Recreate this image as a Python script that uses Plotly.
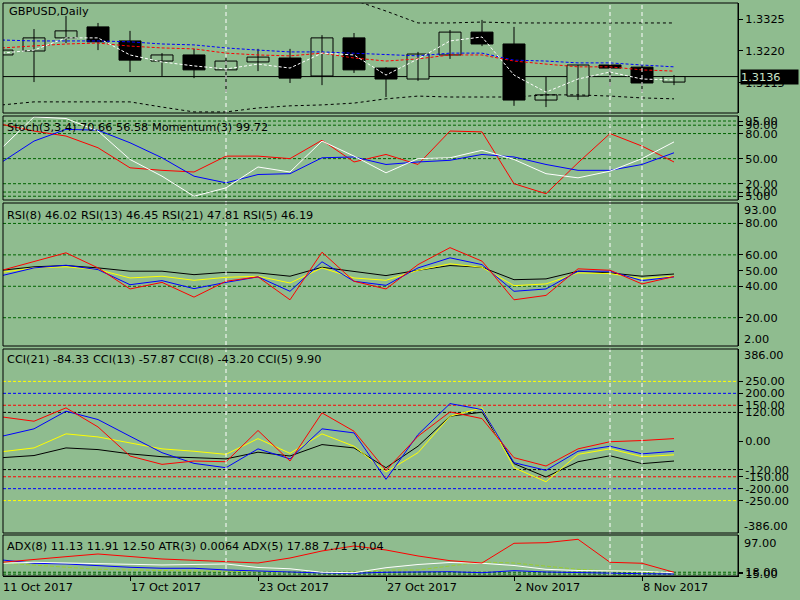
import plotly.graph_objects as go

# ---------------- data ----------------
bar_dates = ["11 Oct", "12 Oct", "13 Oct", "16 Oct", "17 Oct", "18 Oct", "19 Oct", "20 Oct",
             "23 Oct", "24 Oct", "25 Oct", "26 Oct", "27 Oct", "30 Oct", "31 Oct", "1 Nov",
             "2 Nov", "3 Nov", "6 Nov", "7 Nov", "8 Nov", "9 Nov"]
date_tick_idx = [0, 4, 8, 12, 16, 20]
date_tick_labels = ["11 Oct 2017", "17 Oct 2017", "23 Oct 2017", "27 Oct 2017", "2 Nov 2017", "8 Nov 2017"]
vline_idx = [7, 19, 20]

open_ = [1.3207, 1.3220, 1.3263, 1.3299, 1.3253, 1.3187, 1.3207, 1.3158, 1.3184, 1.3197, 1.3138,
         1.3263, 1.3164, 1.3128, 1.3207, 1.3282, 1.3243, 1.3059, 1.3072, 1.3174, 1.3167, 1.3118]
high = [1.3227, 1.3292, 1.3335, 1.3312, 1.3286, 1.3213, 1.3227, 1.3200, 1.3227, 1.3227, 1.3272,
        1.3279, 1.3167, 1.3217, 1.3289, 1.3322, 1.3299, 1.3135, 1.3174, 1.3177, 1.3177, 1.3141]
low = [1.3204, 1.3118, 1.3246, 1.3223, 1.3151, 1.3138, 1.3131, 1.3085, 1.3154, 1.3115, 1.3108,
       1.3148, 1.3069, 1.3122, 1.3194, 1.3236, 1.3040, 1.3036, 1.3059, 1.3105, 1.3085, 1.3108]
close = [1.3223, 1.3263, 1.3286, 1.3250, 1.3190, 1.3207, 1.3158, 1.3187, 1.3200, 1.3131, 1.3263,
         1.3158, 1.3128, 1.3210, 1.3282, 1.3243, 1.3059, 1.3076, 1.3174, 1.3164, 1.3115, 1.3136]
last_price = 1.3136

ma_blue = [1.3256, 1.3253, 1.3253, 1.3253, 1.3250, 1.3243, 1.3240, 1.3230, 1.3223, 1.3217, 1.3217,
           1.3213, 1.3207, 1.3204, 1.3213, 1.3213, 1.3190, 1.3187, 1.3181, 1.3181, 1.3174, 1.3168]
ma_red = [1.3230, 1.3236, 1.3243, 1.3246, 1.3236, 1.3230, 1.3227, 1.3213, 1.3207, 1.3204, 1.3213,
          1.3197, 1.3187, 1.3194, 1.3207, 1.3207, 1.3187, 1.3177, 1.3168, 1.3168, 1.3158, 1.3154]
ma_white = [1.3213, 1.3223, 1.3263, 1.3263, 1.3207, 1.3184, 1.3171, 1.3161, 1.3177, 1.3164, 1.3213,
            1.3207, 1.3141, 1.3194, 1.3253, 1.3266, 1.3141, 1.3085, 1.3128, 1.3151, 1.3128, 1.3125]
band_upper = [1.3404, 1.3414, 1.3427, 1.3437, 1.3437, 1.3434, 1.3427, 1.3420, 1.3414, 1.3407, 1.3397,
              1.3387, 1.3351, 1.3312, 1.3312, 1.3315, 1.3312, 1.3312, 1.3312, 1.3312, 1.3312, 1.3312]
band_lower = [1.3043, 1.3053, 1.3053, 1.3053, 1.3053, 1.3036, 1.3020, 1.3020, 1.3033, 1.3040, 1.3043,
              1.3049, 1.3063, 1.3072, 1.3069, 1.3069, 1.3069, 1.3076, 1.3076, 1.3072, 1.3066, 1.3063]

stoch_main = [63, 100, 98, 83, 49, 29, 5, 15, 40, 34, 71, 53, 33, 50, 51, 60, 49, 32, 27, 35, 50, 70]
stoch_signal = [46, 71, 85, 84, 69, 51, 29, 21, 31, 32, 51, 52, 43, 46, 48, 55, 52, 43, 36, 36, 43, 57]
momentum = [91, 83, 77, 63, 39, 36, 34, 53, 53, 50, 72, 46, 55, 43, 83, 82, 20, 8, 45, 80, 65, 46]
stoch_levels = [95, 90, 80, 50, 20, 10, 5]

rsi5 = [50.2, 55.8, 61.3, 51.7, 38.3, 42.5, 33.1, 43.2, 46.0, 31.4, 61.7, 43.2, 38.3,
        53.8, 64.6, 56.0, 31.4, 34.2, 51.1, 50.2, 41.5, 46.2]
rsi8 = [46.8, 51.7, 53.4, 50.6, 41.0, 43.6, 38.5, 42.5, 46.0, 36.8, 55.6, 43.2, 40.6,
        51.7, 58.1, 53.8, 36.8, 38.3, 49.6, 49.6, 43.6, 46.0]
rsi13 = [48.9, 51.7, 52.4, 50.6, 45.3, 46.4, 43.8, 45.7, 46.4, 42.1, 51.7, 45.3, 43.8,
         50.2, 54.3, 52.1, 40.4, 41.5, 48.5, 48.1, 44.9, 46.4]
rsi21 = [50.2, 52.4, 53.2, 51.7, 49.6, 49.6, 47.4, 48.9, 48.5, 46.4, 52.1, 49.6, 46.8,
         50.2, 53.2, 52.1, 44.2, 44.7, 49.6, 48.5, 46.4, 47.8]
rsi_levels = [80, 60, 40, 20]

cci5 = [101, 83, 139, 59, -63, -98, -84, -87, 44, -84, 118, 41, -123,
        20, 122, 94, -70, -105, -33, -3, 2, 10]
cci8 = [20, 51, 125, 90, 20, -49, -94, -112, -33, -75, 51, 34, -161,
        27, 157, 132, -91, -123, -43, -22, -54, -43]
cci13 = [-45, -29, 30, 17, -8, -33, -43, -56, 10, -52, 30, -22, -130,
         -49, 104, 139, -112, -171, -56, -33, -66, -58]
cci21 = [-70, -61, -29, -36, -54, -66, -70, -75, -47, -63, -15, -29, -112,
         -22, 104, 121, -95, -151, -87, -62, -95, -84]
cci_levels = [(250, "#ffff00"), (200, "#0000ff"), (150, "#ff0000"), (120, "#000000"),
              (-120, "#000000"), (-150, "#ff0000"), (-200, "#0000ff"), (-250, "#ffff00")]

adx_red = [39.1, 45.5, 51.0, 56.7, 51.0, 46.1, 43.3, 40.4, 37.6, 48.2, 63.1, 73.7, 65.2,
           52.5, 42.5, 37.6, 79.4, 80.7, 87.9, 39.1, 37.0, 17.9]
adx_white = [37.0, 39.1, 37.6, 37.0, 34.8, 33.4, 34.0, 35.5, 28.1, 25.3, 17.9, 17.0, 27.6,
             34.4, 38.7, 37.0, 32.3, 24.2, 21.7, 21.3, 20.0, 17.0]
adx_blue = [44.0, 37.0, 35.5, 31.9, 28.5, 26.4, 26.4, 22.8, 21.3, 18.5, 16.4, 15.8, 17.9,
            19.1, 19.1, 17.0, 21.3, 18.5, 17.0, 15.8, 14.9, 14.3]
adx_yg = [37.6, 33.4, 28.5, 24.2, 22.8, 21.3, 20.6, 20.0, 18.5, 17.0, 17.0, 18.5, 22.8,
          22.8, 31.2, 39.7, 37.6, 31.2, 24.2, 20.6, 18.5, 16.4]
adx_levels = [18, 14]

# ---------------- layout helpers ----------------
W, H = 800, 600
ML, MR, MT, MB = 3, 62, 3, 24
PH = H - MT - MB
PW = W - ML - MR
BG = "#8fbc8f"
FONT = "DejaVu Sans"
FS = 11.3
DG = "#006400"
XR = [0.03125, 23.0]


def py(ypx):
    return (H - MB - ypx) / PH


def px_x(i):
    return (i - XR[0]) / (XR[1] - XR[0])


def dom(top, bot):
    return [max(0.0, py(bot)), min(1.0, py(top))]


panels = {
    "y": dom(3, 113),
    "y2": dom(116, 200),
    "y3": dom(203, 346),
    "y4": dom(349, 533),
    "y5": dom(535, 576),
}

xs = list(range(len(bar_dates)))
fig = go.Figure()

# wicks
wx, wy = [], []
for i in xs:
    wx += [i, i, None]
    wy += [low[i], high[i], None]
fig.add_trace(go.Scatter(x=wx, y=wy, mode="lines", line=dict(color="black", width=1),
                         hoverinfo="skip", yaxis="y"))
# bodies
base = [min(o, c) for o, c in zip(open_, close)]
hgt = [max(abs(c - o), 0.00003) for o, c in zip(open_, close)]
cols = [BG if c >= o else "black" for o, c in zip(open_, close)]
fig.add_trace(go.Bar(x=xs, y=hgt, base=base, width=0.6875,
                     marker=dict(color=cols, line=dict(color="black", width=1)),
                     hoverinfo="skip", yaxis="y"))


def line(y, color, axis, dash=None):
    fig.add_trace(go.Scatter(x=xs, y=y, mode="lines", yaxis=axis, hoverinfo="skip",
                             line=dict(color=color, width=1, dash=dash)))


line(band_upper, "black", "y", "3px,3px")
line(band_lower, "black", "y", "3px,3px")
line(ma_blue, "#0000ff", "y", "3px,2px")
line(ma_red, "#ff0000", "y", "3px,2px")
line(ma_white, "white", "y", "3px,2px")

line(momentum, "#ff0000", "y2")
line(stoch_signal, "#0000ff", "y2")
line(stoch_main, "white", "y2")

line(rsi21, "black", "y3")
line(rsi13, "#ffff00", "y3")
line(rsi8, "#0000ff", "y3")
line(rsi5, "#ff0000", "y3")

line(cci21, "black", "y4")
line(cci13, "#ffff00", "y4")
line(cci8, "#0000ff", "y4")
line(cci5, "#ff0000", "y4")

line(adx_yg, "#9acd32", "y5", "4px,2px")
line(adx_blue, "#0000ff", "y5")
line(adx_white, "white", "y5")
line(adx_red, "#ff0000", "y5")

shapes = []
for lv in stoch_levels:
    shapes.append(dict(type="line", xref="paper", x0=0, x1=1, yref="y2", y0=lv, y1=lv,
                       line=dict(color=DG, width=1, dash="3px,2px"), layer="below"))
for lv in rsi_levels:
    shapes.append(dict(type="line", xref="paper", x0=0, x1=1, yref="y3", y0=lv, y1=lv,
                       line=dict(color=DG, width=1, dash="3px,2px"), layer="below"))
for lv, c in cci_levels:
    shapes.append(dict(type="line", xref="paper", x0=0, x1=1, yref="y4", y0=lv, y1=lv,
                       line=dict(color=c, width=1, dash="3px,2px"), layer="below"))
for lv in adx_levels:
    shapes.append(dict(type="line", xref="paper", x0=0, x1=1, yref="y5", y0=lv, y1=lv,
                       line=dict(color=DG, width=1, dash="3px,2px"), layer="below"))
shapes.append(dict(type="line", xref="paper", x0=0, x1=1, yref="y", y0=last_price, y1=last_price,
                   line=dict(color="black", width=1), layer="below"))
for v in vline_idx:
    shapes.append(dict(type="line", xref="x", x0=v, x1=v, yref="paper", y0=0, y1=1,
                       line=dict(color="white", width=1, dash="4px,3px"), layer="above"))
for k, d in panels.items():
    shapes.append(dict(type="rect", xref="paper", x0=0, x1=1, yref="paper", y0=d[0], y1=d[1],
                       line=dict(color="black", width=1), layer="above"))

ax_common = dict(side="right", anchor="x", showline=True, linecolor="black", linewidth=1,
                 ticks="outside", ticklen=4, tickcolor="black", showgrid=False, zeroline=False,
                 fixedrange=True, tickfont=dict(family=FONT, size=FS, color="black"))

main_ticks = [1.3325, 1.3220, 1.3115]
stoch_ticks = [95, 90, 80, 50, 20, 10, 5]
rsi_ticks = [80, 60, 50, 40, 20]
cci_ticks = [250, 200, 150, 120, 0, -120, -150, -200, -250]
adx_ticks = [18, 15]

fig.update_layout(
    width=W, height=H, margin=dict(l=ML, r=MR, t=MT, b=MB),
    paper_bgcolor=BG, plot_bgcolor=BG, showlegend=False, barmode="overlay",
    font=dict(family=FONT, size=FS, color="black"),
    xaxis=dict(range=XR, anchor="y5", showline=True, linecolor="black", ticks="outside",
               ticklen=4, tickcolor="black", tickvals=date_tick_idx, showticklabels=False,
               showgrid=False, zeroline=False, fixedrange=True),
    yaxis=dict(domain=panels["y"], range=[1.30165, 1.33775], tickvals=main_ticks,
               ticktext=["%.4f" % t for t in main_ticks], **ax_common),
    yaxis2=dict(domain=panels["y2"], range=[0.5, 101], tickvals=stoch_ticks,
                ticktext=["%.2f" % t for t in stoch_ticks], **ax_common),
    yaxis3=dict(domain=panels["y3"], range=[2, 93], tickvals=rsi_ticks,
                ticktext=["%.2f" % t for t in rsi_ticks], **ax_common),
    yaxis4=dict(domain=panels["y4"], range=[-386, 386], tickvals=cci_ticks,
                ticktext=["%.2f" % t for t in cci_ticks], **ax_common),
    yaxis5=dict(domain=panels["y5"], range=[10, 97], tickvals=adx_ticks,
                ticktext=["%.2f" % t for t in adx_ticks], **ax_common),
    shapes=shapes,
)

ann = []
titles = [
    ("GBPUSD,Daily", 7, 12),
    ("Stoch(3,3,4) 70.66 56.58 Momentum(3) 99.72", 5, 127),
    ("RSI(8) 46.02 RSI(13) 46.45 RSI(21) 47.81 RSI(5) 46.19", 5, 215),
    ("CCI(21) -84.33 CCI(13) -57.87 CCI(8) -43.20 CCI(5) 9.90", 5, 359),
    ("ADX(8) 11.13 11.91 12.50 ATR(3) 0.0064 ADX(5) 17.88 7.71 10.04", 5, 546),
]
for t, xp, yp in titles:
    ann.append(dict(text=t, xref="paper", x=(xp - ML) / PW, xanchor="left",
                    yref="paper", y=py(yp), yanchor="middle", showarrow=False,
                    font=dict(family=FONT, size=FS, color="black")))
# edge labels drawn inside the panels (yshift in px, positive = up)
edge_labels = [("y3", 93, "93.00", -7), ("y3", 2, "2.00", 7), ("y4", 386, "386.00", -6),
               ("y4", -386, "-386.00", 7), ("y5", 97, "97.00", -8)]
for axn, v, t, sh in edge_labels:
    ann.append(dict(text=t, xref="paper", x=1, xanchor="left", xshift=4, yref=axn, y=v,
                    yanchor="middle", yshift=sh, showarrow=False,
                    font=dict(family=FONT, size=FS, color="black")))
# dates (left aligned at their tick)
for i, t in zip(date_tick_idx, date_tick_labels):
    ann.append(dict(text=t, xref="paper", x=px_x(i), xanchor="left", xshift=-1, yref="paper", y=0,
                    yanchor="middle", yshift=-11, showarrow=False,
                    font=dict(family=FONT, size=FS, color="black")))
# last price box
ann.append(dict(text="1.3136", xref="paper", x=1, xanchor="left", xshift=2, yref="y", y=last_price,
                yanchor="middle", showarrow=False, bgcolor="black", width=57, height=14, align="left",
                borderpad=0, font=dict(family=FONT, size=FS, color="#c8e4c8")))
fig.update_layout(annotations=ann)

fig.write_html("out.html", config={"displayModeBar": False},
               post_script="document.body.style.margin='0';document.body.style.overflow='hidden';")
